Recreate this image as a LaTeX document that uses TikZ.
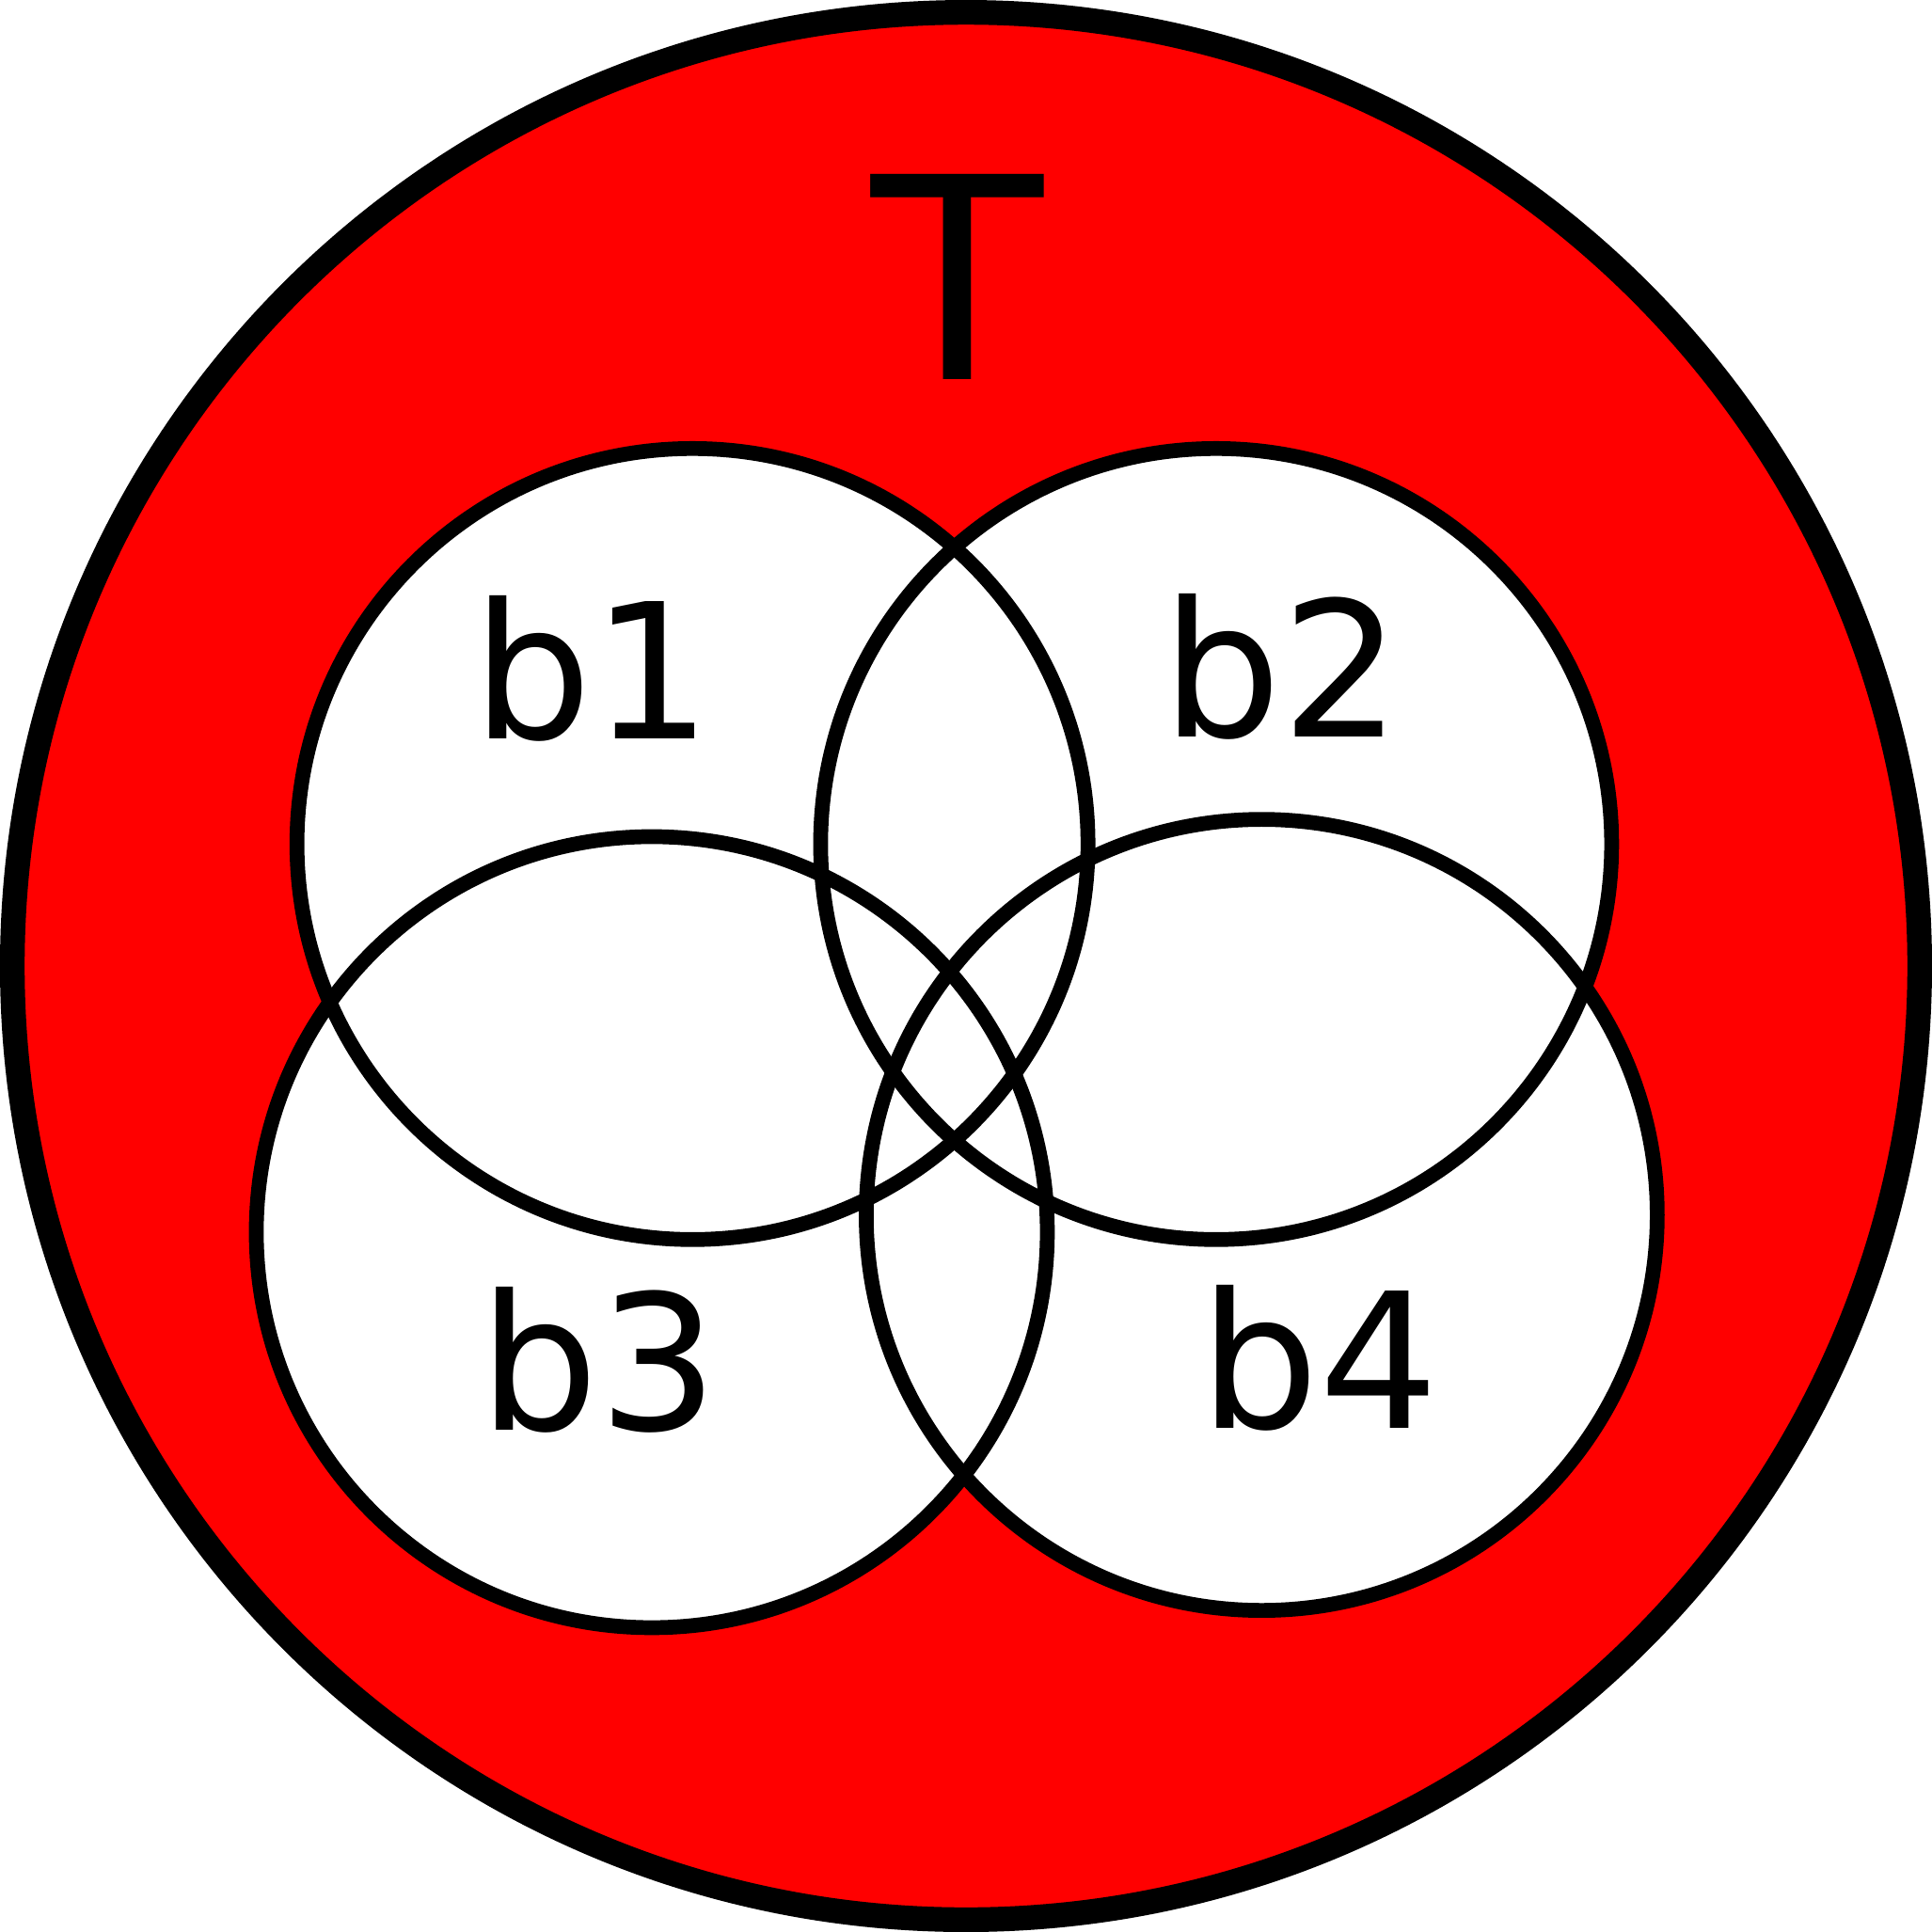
\documentclass[tikz,border=0pt]{standalone}
\usepackage{fontspec}
\setmainfont{DejaVu Sans}
\usetikzlibrary{positioning}

\begin{document}
\begin{tikzpicture}[
    x=0.1mm, y=-0.1mm,
    setLine/.style={draw=black, line width=1.2mm},
    setLabel/.style={anchor=base, inner sep=0pt, font=\fontsize{43.5}{50}\selectfont},
    topLabel/.style={anchor=base, inner sep=0pt, font=\fontsize{65}{70}\selectfont}
]
    \useasboundingbox (0,0) rectangle (1568,1568);

    % universe
    \filldraw[fill=red, draw=black, line width=2.0mm] (784,784) circle (774);

    % blocks: white inside first, outlines on top
    \foreach \cx/\cy in {562/685, 987/685, 529/1000, 1024/986}
        \fill[white] (\cx,\cy) circle (321);
    \foreach \cx/\cy in {562/685, 987/685, 529/1000, 1024/986}
        \draw[setLine] (\cx,\cy) circle (321);

    \node[topLabel] (tLab) at (777,308) {T};
    \node[setLabel] (b1Lab) at (481,600) {b1};
    \node[setLabel] (b2Lab) at (1040,598) {b2};
    \node[setLabel] (b3Lab) at (486,1161) {b3};
    \node[setLabel] (b4Lab) at (1071,1159) {b4};
\end{tikzpicture}
\end{document}
